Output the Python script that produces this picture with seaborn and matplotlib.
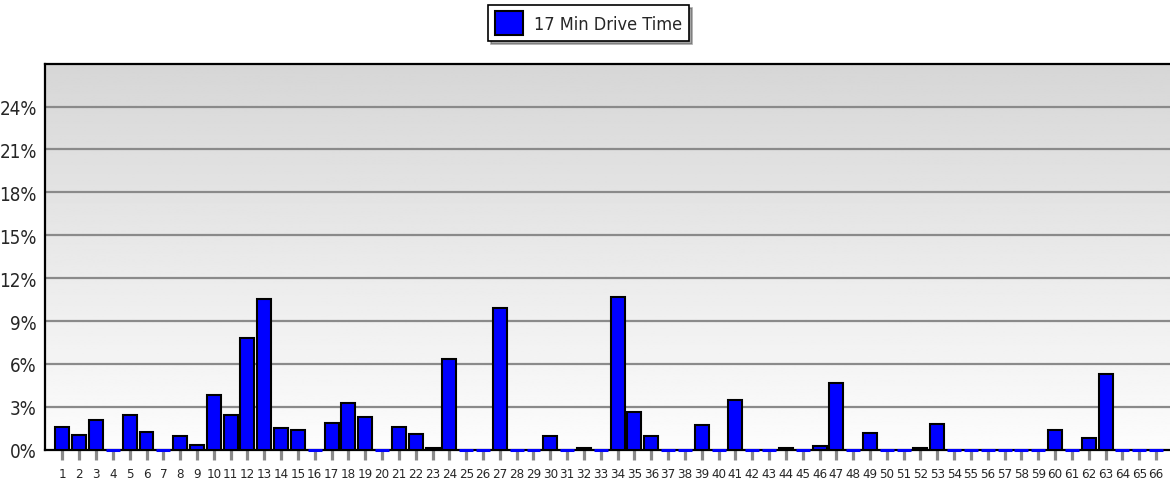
import numpy as np
import pandas as pd
import matplotlib
matplotlib.use("Agg")
import matplotlib.pyplot as plt
import seaborn as sns
from matplotlib.patches import Patch

# Share of trips per zone (percent), zones 1-66
zones = [str(i) for i in range(1, 67)]
share = [
    1.6, 1.05, 2.1, 0.0, 2.4, 1.25, 0.0, 0.95, 0.3, 3.85,
    2.4, 7.8, 10.55, 1.5, 1.35, 0.0, 1.85, 3.3, 2.3, 0.0,
    1.6, 1.1, 0.15, 6.35, 0.0, 0.0, 9.9, 0.0, 0.0, 0.95,
    0.0, 0.1, 0.0, 10.7, 2.65, 0.95, 0.0, 0.0, 1.75, 0.0,
    3.45, 0.0, 0.0, 0.1, 0.0, 0.25, 4.65, 0.0, 1.2, 0.0,
    0.0, 0.1, 1.8, 0.0, 0.0, 0.0, 0.0, 0.0, 0.0, 1.35,
    0.0, 0.8, 5.3, 0.0, 0.0, 0.0,
]
yticks = [0, 3, 6, 9, 12, 15, 18, 21, 24]
series_name = "17 Min Drive Time"

data = pd.DataFrame({"zone": zones, "share": share})

sns.set_style("white")
# narrow font, like the original chart
plt.rcParams['font.family'] = ['DejaVu Sans']
plt.rcParams['font.stretch'] = 'condensed'

fig = plt.figure(figsize=(11.7, 4.85), dpi=100)
ax = fig.add_axes([0.0385, 0.0707, 0.9615, 0.7959])

# Gray-to-white gradient background (top darker)
grad = np.linspace(0.84, 0.99, 256)[:, None]
grad = np.repeat(grad, 2, axis=1)
ax.imshow(grad, cmap='gray', vmin=0, vmax=1, aspect='auto',
          extent=[0, 1, 0, 1], transform=ax.transAxes, zorder=0)

# Horizontal gridlines
for t in yticks[1:]:
    ax.axhline(t, color='#8a8a8a', lw=1.6, zorder=1)

sns.barplot(data=data, x='zone', y='share', order=zones, color='#0000ff',
            width=0.83, edgecolor='black', linewidth=1.5, saturation=1,
            ax=ax, zorder=3)

# Zero-height bars show as thin blue strips on the baseline
for p in ax.patches:
    if p.get_height() == 0:
        p.set_edgecolor('#0000ff')
        p.set_linewidth(2.2)
        p.set_clip_on(False)

ax.set_xlim(-1.03, 65.83)
ax.set_ylim(0, 27)
ax.set_yticks(yticks)
ax.set_yticklabels([f"{t}%" for t in yticks], fontsize=13.5)
ax.set_xlabel("")
ax.set_ylabel("")

ax.tick_params(axis='x', length=7.5, width=2.3, color='#8a8a8a',
               direction='out', pad=5, labelsize=9.5, bottom=True)
ax.tick_params(axis='y', length=0, pad=6)

for side in ['top', 'left', 'bottom']:
    ax.spines[side].set_visible(True)
    ax.spines[side].set_color('black')
    ax.spines[side].set_linewidth(1.6)
    ax.spines[side].set_zorder(4)
ax.spines['bottom'].set_zorder(2)
ax.spines['right'].set_visible(False)

handle = Patch(facecolor='#0000ff', edgecolor='black', linewidth=1.5)
leg = fig.legend([handle], [series_name], loc='upper center',
                 bbox_to_anchor=(0.503, 0.995), fontsize=13, frameon=True,
                 fancybox=False, shadow=True, edgecolor='black',
                 handlelength=1.6, handleheight=1.6, borderpad=0.35,
                 handletextpad=0.6, borderaxespad=0.2)
leg.get_frame().set_linewidth(1.2)

plt.savefig("out.png", dpi=100)
